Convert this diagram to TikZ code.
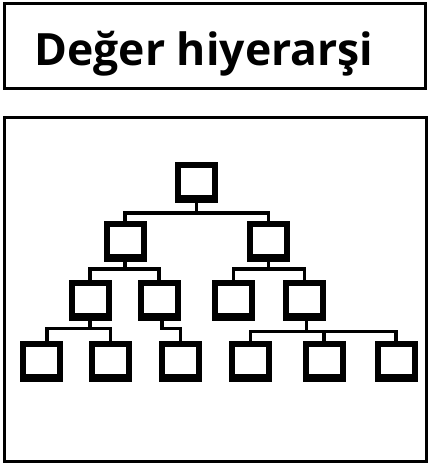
\documentclass[tikz,border=0pt]{standalone}
\usepackage{fontspec}
\setmainfont{Open Sans}
\usetikzlibrary{calc}

\tikzset{
  frame/.style={draw=black, line width=3pt},
  unit/.style={draw=black, line width=6pt, inner sep=0pt,
    minimum width=37pt, minimum height=35pt,
    path picture={\fill[black] (path picture bounding box.south west)
      rectangle ([yshift=5pt]path picture bounding box.south east);}},
  link/.style={draw=black, line width=3.5pt}
}

\begin{document}
\begin{tikzpicture}[x=1pt, y=-1pt]

  \useasboundingbox (0,0) rectangle (428,466);

  \draw[frame] (4,3) rectangle (425,88);
  \draw[frame] (4,117) rectangle (426,461);

  \node[anchor=base, font=\fontsize{44.5}{50}\selectfont\bfseries] (title) at (204,65) {Değer hiyerarşi};

  \node[unit] (top) at (196.5,182.5) {};

  \node[unit] (left) at (125,241.5) {};
  \node[unit] (right) at (268.5,241.5) {};

  \node[unit] (a) at (90,300) {};
  \node[unit] (b) at (159,300) {};
  \node[unit] (c) at (233.5,300) {};
  \node[unit] (d) at (304.5,300) {};

  \node[unit] (a1) at (41,361.5) {};
  \node[unit] (a2) at (110.5,361.5) {};
  \node[unit] (b1) at (180.5,361.5) {};
  \node[unit] (d1) at (250.5,361.5) {};
  \node[unit] (d2) at (324,361.5) {};
  \node[unit] (d3) at (396,361.5) {};

  \draw[link] (top.south) -- ++(0,10) -| (left.north);
  \draw[link] (top.south) ++(0,10) -| (right.north);

  \draw[link] (left.south) -- ++(0,7) -| (a.north);
  \draw[link] (left.south) ++(0,7) -| (b.north);
  \draw[link] (right.south) -- ++(0,7) -| (c.north);
  \draw[link] (right.south) ++(0,7) -| (d.north);

  \draw[link] (a.south) -- ++(0,8) -| ([xshift=6pt]a1.north);
  \draw[link] (a.south) ++(0,8) -| (a2.north);
  \draw[link] ([xshift=3pt]b.south) -- ++(0,8) -| (b1.north);
  \draw[link] ([xshift=2pt]d.south) -- ++(0,11) -| (d1.north);
  \draw[link] ([xshift=2pt]d.south) ++(0,11) -| (d2.north);
  \draw[link] ([xshift=2pt]d.south) ++(0,11) -| (d3.north);

\end{tikzpicture}
\end{document}
